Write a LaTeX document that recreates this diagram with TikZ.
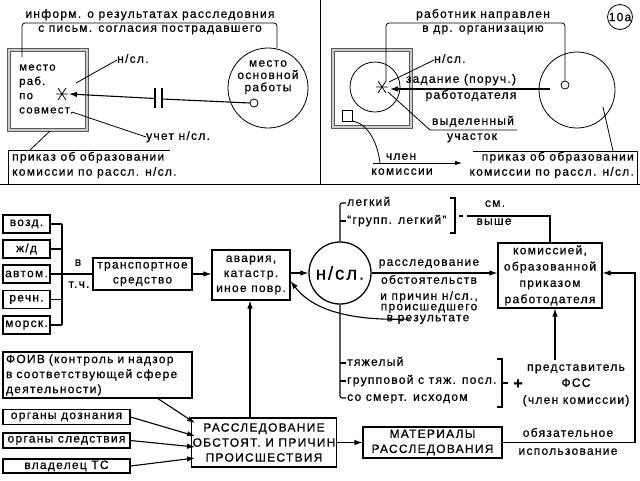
\documentclass[tikz,border=0pt]{standalone}
\usepackage{fontspec}
\setmainfont[LetterSpace=10.5,FakeBold=0.6]{Liberation Sans}
\usetikzlibrary{arrows.meta}
\newcommand{\tf}{\fontsize{12}{15}\selectfont}
\begin{document}
\begin{tikzpicture}[x=1pt,y=-1pt,
  every node/.style={font=\tf},
  ln/.style={line width=1.1pt},
  thin/.style={line width=0.8pt},
  arr/.style={ln,-{Latex[length=8pt,width=5.5pt]}},
  bx/.style={draw,line width=1.1pt,inner sep=1pt,align=center},
  tx/.style={inner sep=0pt,text height=8pt,text depth=2.4pt},
  ml/.style={inner sep=0pt,align=#1},
  frm/.style={draw=gray!70!black,line width=0.9pt,double=gray!40,double distance=1.6pt},
]
\useasboundingbox (0,0) rectangle (640,480);

% ---------- separators
\coordinate (sepL) at (0,184); \coordinate (sepR) at (640,184);
\coordinate (sepT) at (320,0);  \coordinate (sepB) at (320,184);
\draw[thin] (sepL) -- (sepR);
\draw[thin] (sepT) -- (sepB);

% ================= top left panel
\draw[frm] (9,50) rectangle (87,130);
\node[ml=left,font=\fontsize{11.5}{14.3}\selectfont,anchor=west] (mesto) at (19,89) {место\\раб.\\по\\совмест.};
\coordinate (star1) at (62,94);
\draw[thin] (56,94) -- (68,94) (58,88) -- (66,100) (66,88) -- (58,100);
\node[circle,draw,thin,minimum size=80pt,inner sep=0] (osnc) at (268,88) {};
\node[ml=center,font=\fontsize{12}{12.3}\selectfont] (osn) at (268,77) {место\\основной\\работы};
\node[circle,draw,thin,minimum size=8pt,inner sep=0] (sc1) at (254,103) {};
\node[tx] (t1a) at (150,15) {информ. о результатах расследовния};
\node[tx] (t1b) at (150,29) {с письм. согласия пострадавшего};
\coordinate (b1a) at (22,57); \coordinate (b1b) at (277,23); \coordinate (b1c) at (277,48);
\draw[thin,rounded corners=3pt] (b1a) -- (22,23) -- (b1b) -- (b1c);
% connection with capacitor-like break
\coordinate (cap1) at (155,98.5); \coordinate (cap2) at (162,99);
\draw[ln] (sc1.west) -- (cap2);
\draw[arr] (cap1) -- (69,94);
\draw[ln] (155,88) -- (155,108) (162,88) -- (162,108);
\node[tx,anchor=west] (ns1) at (117,60) {н/сл.};
\draw[thin] (76,83) -- (ns1.west);
\node[tx,anchor=west] (uchet) at (146,137) {учет н/сл.};
\draw[thin] (72,112) -- (uchet.west);
\node[ml=left,anchor=west] (prik1) at (12,165) {приказ об образовании\\комиссии по рассл. н/сл.};
\draw[thin] (8,184) -- (8,150) -- (170,150);
\draw[thin] (50,131) -- (30,150);

% ================= top right panel
\draw[frm] (333,50) rectangle (411,127);
\node[circle,draw,thin,minimum size=50pt,inner sep=0] (wc) at (375,87) {};
\draw[thin] (342,110) rectangle (352,121);
\coordinate (sq) at (352,121);
\draw[thin] (376,87) -- (388,87) (378,81) -- (386,93) (386,81) -- (378,93);
\coordinate (star2) at (382,87);
\node[circle,draw,thin,minimum size=76pt,inner sep=0] (bc) at (577,90) {};
\node[circle,draw,thin,minimum size=8pt,inner sep=0] (sc2) at (565,85) {};
\node[tx] (t2a) at (483,15) {работник направлен};
\node[tx] (t2b) at (483,29) {в др. организацию};
\draw[thin,rounded corners=3pt] (386,81) -- (386,23) -- (565,23) -- (sc2.north);
\node[circle,draw,thin,minimum size=25pt,inner sep=0,font=\fontsize{12}{13}\selectfont] (num) at (620,17) {10а};
\node[tx,anchor=west] (ns2) at (434,60) {н/сл.};
\draw[thin] (389,82) -- (ns2.west);
\node[tx] (zad) at (461,80) {задание (поруч.)};
\node[tx] (rab) at (471,96) {работодателя};
\coordinate (zs) at (550,89);
\draw[arr] (zs) -- (390,89);
\node[tx] (vyd) at (473,122) {выделенный};
\node[tx] (uch) at (472,137) {участок};
\draw[thin] (388,92) -- (430,130) -- (517,130);
\node[tx] (chl) at (401,157) {член};
\node[tx] (kmc) at (402,172) {комиссии};
\coordinate (cv) at (380,163);
\draw[thin] (sq) .. controls (370,124) and (378,146) .. (cv);
\draw[thin,-{Latex[length=7pt,width=4.5pt]}] (373,163) -- (462,163);
\node[ml=right,anchor=east] (prik2) at (634,165) {приказ об образовании\\комиссии по рассл. н/сл.};
\draw[thin] (473,151) -- (637,151) -- (637,184);
\draw[thin] (603,107) -- (613,151);

% ================= bottom
\foreach \n/\t/\y in {vozd/{возд.}/224, zhd/{ж/д}/249, avt/{автом.}/274, rech/{речн.}/299.5, mor/{морск.}/325}{
  \node[bx,minimum width=47pt,minimum height=18pt] (\n) at (26.5,\y) {\t};
  \draw[ln] (\n.east) -- (62,\y);
}
\draw[ln] (62,224) -- (62,325);
\node[bx,minimum width=99pt,minimum height=32pt,font=\fontsize{12}{15}\selectfont] (trans) at (142.5,274) {транспортное\\средство};
\draw[ln] (62,274) -- (trans.west);
\node[tx] (vv) at (78,263) {в};
\node[tx] (tch) at (79,285) {т.ч.};
\node[bx,minimum width=78pt,minimum height=50pt] (avar) at (251,275) {авария,\\катастр.\\иное повр.};
\draw[arr] (trans.east) -- (trans.east -| avar.west);
\node[circle,draw,line width=1.3pt,minimum size=62pt,inner sep=0,font=\fontsize{18.5}{20}\selectfont] (nsc) at (340,273) {н/сл.};
\draw[arr] (avar.east |- nsc) -- (nsc.west);
\node[bx,minimum width=104pt,minimum height=65pt,font=\fontsize{12}{16.3}\selectfont] (kom) at (550,275.5) {комиссией,\\образованной\\приказом\\работодателя};
\draw[arr] (nsc.east) -- (nsc.east -| kom.west);
\node[tx] (r1) at (429,263) {расследование};
\node[tx] (r2) at (429,281) {обстоятельств};
\node[tx] (r3) at (429,297) {и причин н/сл.,};
\node[tx] (r4) at (429,307.5) {происшедшего};
\node[tx] (r5) at (428,318.5) {в результате};
\draw[ln,-{Latex[length=8pt,width=5.5pt]}] (410,319) .. controls (330,322) and (305,300) .. (avar.south east |- 0,281);

% light group
\draw[ln,rounded corners=2pt] (nsc.north) -- (340,203) -- (346,203);
\draw[ln] (340,221) -- (346,221);
\node[tx,anchor=west] (leg) at (347,203) {легкий};
\node[tx,anchor=west] (gleg) at (347,221) {“групп. легкий”};
\draw[ln] (450,198) -- (455,198) -- (455,233) -- (450,233);
\draw[ln] (459,216) -- (463,216);
\draw[ln] (467,216) -- (550,216) -- (kom.north);
\node[tx] (sm) at (495,204) {см.};
\node[tx] (vy) at (494,222) {выше};

% heavy group
\draw[ln,rounded corners=2pt] (nsc.south) -- (340,398) -- (346,398);
\draw[ln] (340,363) -- (346,363) (340,381) -- (346,381);
\node[tx,anchor=west] (tj) at (347,363) {тяжелый};
\node[tx,anchor=west] (gr) at (347,381) {групповой с тяж. посл.};
\node[tx,anchor=west] (sme) at (347,398) {со смерт. исходом};
\draw[ln] (497,359) -- (502,359) -- (502,407) -- (497,407);
\draw[ln] (503,383) -- (508,383);
\node[inner sep=0,font=\fontsize{16}{17}\bfseries] (plus) at (518,384) {+};
\node[tx] (pred) at (576,368) {представитель};
\node[tx] (fss) at (576,384) {ФСС};
\node[tx] (chk) at (576,401) {(член комиссии)};
\draw[arr] (555,360) -- (555,308.5);

% bottom row
\node[bx,minimum width=189pt,minimum height=46pt,align=left,text width=183pt] (foiv) at (97.5,375) {ФОИВ (контроль и надзор\\в соответствующей сфере\\деятельности)};
\node[bx,minimum width=127pt,minimum height=15pt] (dozn) at (66.5,417) {органы дознания};
\node[bx,minimum width=127pt,minimum height=15pt] (sled) at (66.5,440.5) {органы следствия};
\node[bx,minimum width=127pt,minimum height=14pt] (vlad) at (66.5,466) {владелец ТС};
\node[bx,minimum width=138pt,minimum height=49pt] (rass) at (264,442.5) {РАССЛЕДОВАНИЕ\\ОБСТОЯТ. И ПРИЧИН\\ПРОИСШЕСТВИЯ};
\node[bx,minimum width=139pt,minimum height=31pt] (mat) at (432.5,442.5) {МАТЕРИАЛЫ\\РАССЛЕДОВАНИЯ};
\draw[arr] (rass.east) -- (mat.west);
\draw[arr] (rass.north -| 250,0) -- (avar.south -| 250,0);
\draw[arr] (157,398) -- (195,423);
\draw[arr] (dozn.east) -- (195,436);
\draw[arr] (sled.east) -- (195,447);
\draw[arr] (vlad.east) -- (195,458);
\draw[arr] (mat.east) -- (635,442.5) -- (635,273) -- (kom.east |- 0,273);
\node[tx] (obz) at (568,434) {обязательное};
\node[tx] (isp) at (568,452) {использование};
\end{tikzpicture}
\end{document}
